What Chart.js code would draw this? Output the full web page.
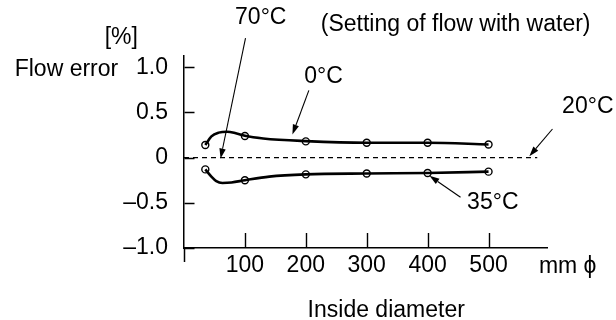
<!DOCTYPE html>
<html>
<head>
<meta charset="utf-8">
<script src="https://cdn.jsdelivr.net/npm/chart.js@4.4.1/dist/chart.umd.min.js"></script>
<style>
  html, body { margin: 0; padding: 0; background: #fff; }
  #wrap { width: 616px; height: 320px; }
</style>
</head>
<body>
<div id="wrap"><canvas id="flowChart" width="616" height="320"></canvas></div>
<script>
// valores
const diameters = [35, 100, 200, 300, 400, 500];
const error0C = [0.14, 0.24, 0.18, 0.165, 0.165, 0.145];
const error35C = [-0.13, -0.25, -0.185, -0.175, -0.17, -0.155];

// tracado suavizado das curvas
const curve0X = [35, 45, 57, 71, 85, 100, 130, 200, 300, 400, 500];
const curve0Y = [0.14, 0.235, 0.277, 0.287, 0.27, 0.242, 0.212, 0.183, 0.165, 0.165, 0.145];
const curve35X = [35, 45, 53, 63, 78, 100, 140, 200, 300, 400, 500];
const curve35Y = [-0.13, -0.21, -0.26, -0.28, -0.275, -0.25, -0.21, -0.185, -0.175, -0.17, -0.155];

// linha de referencia 20°C
const zeroLineX = [0, 580];
const zeroLineY = [0, 0];

const yTickValues = [1.0, 0.5, 0, -0.5, -1.0];
const yTickLabels = ['1.0', '0.5', '0', '\u20130.5', '\u20131.0'];
const xTickValues = [100, 200, 300, 400, 500];
const xTickLabels = ['100', '200', '300', '400', '500'];

const FONT = '"Liberation Sans", Arial, Helvetica, sans-serif';
const FONT_SIZE = 23;

function toPoints(xs, ys) {
    return xs.map((v, i) => ({ x: v, y: ys[i] }));
}

// textos e setas (coordenadas em unidades do grafico)
const labels = [
    { text: '70\u00b0C', x: 126, y: 1.55 },
    { text: '(Setting of flow with water)', x: 446, y: 1.47 },
    { text: '0\u00b0C', x: 229, y: 0.894 },
    { text: '20\u00b0C', x: 663, y: 0.559 },
    { text: '35\u00b0C', x: 507, y: -0.503 },
    { text: '[%]', x: -103, y: 1.33 },
    { text: 'Flow error', x: -193, y: 0.975 },
    { text: 'mm \u03d5', x: 630, y: -1.205 },
    { text: 'Inside diameter', x: 332, y: -1.69 }
];
const arrows = [
    { from: [101, 1.323], to: [60, -0.01] },
    { from: [205, 0.745], to: [178, 0.255] },
    { from: [605, 0.317], to: [567, 0.015] },
    { from: [454, -0.439], to: [403, -0.2] }
];

const figureExtras = {
    id: 'figureExtras',
    afterDraw(chart) {
        const { ctx, chartArea, scales: { x, y } } = chart;
        ctx.save();
        ctx.strokeStyle = '#000';
        ctx.fillStyle = '#000';

        const axisX = Math.round(x.getPixelForValue(0)) + 0.5;
        const axisY = chartArea.bottom;

        // prolongamento do eixo y abaixo do eixo x
        ctx.lineWidth = 1.5;
        ctx.beginPath();
        ctx.moveTo(axisX, axisY);
        ctx.lineTo(axisX, axisY + 14);
        ctx.stroke();

        // marcas de escala voltadas para dentro
        ctx.lineWidth = 1.4;
        ctx.beginPath();
        xTickValues.forEach(v => {
            const px = Math.round(x.getPixelForValue(v)) + 0.5;
            ctx.moveTo(px, axisY);
            ctx.lineTo(px, axisY - 15);
        });
        yTickValues.forEach(v => {
            const py = Math.round(y.getPixelForValue(v)) + 0.5;
            ctx.moveTo(axisX, py);
            ctx.lineTo(axisX + 10, py);
        });
        ctx.stroke();

        // setas
        ctx.lineWidth = 1.1;
        arrows.forEach(a => {
            const x1 = x.getPixelForValue(a.from[0]), y1 = y.getPixelForValue(a.from[1]);
            const x2 = x.getPixelForValue(a.to[0]), y2 = y.getPixelForValue(a.to[1]);
            const ang = Math.atan2(y2 - y1, x2 - x1);
            const len = 10, half = 3.2;
            const bx = x2 - len * Math.cos(ang), by = y2 - len * Math.sin(ang);
            ctx.beginPath();
            ctx.moveTo(x1, y1);
            ctx.lineTo(bx, by);
            ctx.stroke();
            ctx.beginPath();
            ctx.moveTo(x2, y2);
            ctx.lineTo(bx + half * Math.sin(ang), by - half * Math.cos(ang));
            ctx.lineTo(bx - half * Math.sin(ang), by + half * Math.cos(ang));
            ctx.closePath();
            ctx.fill();
        });

        // textos
        ctx.font = FONT_SIZE + 'px ' + FONT;
        ctx.textAlign = 'center';
        ctx.textBaseline = 'middle';
        labels.forEach(l => {
            ctx.fillText(l.text, x.getPixelForValue(l.x), y.getPixelForValue(l.y));
        });
        ctx.restore();
    }
};

const lineStyle = {
    type: 'line',
    borderColor: '#000',
    borderWidth: 2.6,
    pointRadius: 0,
    fill: false,
    cubicInterpolationMode: 'monotone'
};
const pointStyle = {
    type: 'scatter',
    showLine: false,
    pointRadius: 3.5,
    pointBorderWidth: 1.4,
    pointBorderColor: '#000',
    pointBackgroundColor: 'rgba(0,0,0,0)'
};

new Chart(document.getElementById('flowChart'), {
    type: 'line',
    data: {
        datasets: [
            Object.assign({ label: '0\u00b0C', data: toPoints(curve0X, curve0Y) }, lineStyle),
            Object.assign({ label: '0\u00b0C pts', data: toPoints(diameters, error0C) }, pointStyle),
            Object.assign({ label: '35\u00b0C', data: toPoints(curve35X, curve35Y) }, lineStyle),
            Object.assign({ label: '35\u00b0C pts', data: toPoints(diameters, error35C) }, pointStyle),
            {
                type: 'line',
                label: '20\u00b0C',
                data: toPoints(zeroLineX, zeroLineY),
                borderColor: '#000',
                borderWidth: 1.2,
                borderDash: [5, 4],
                pointRadius: 0,
                fill: false
            }
        ]
    },
    options: {
        responsive: false,
        animation: false,
        devicePixelRatio: 1,
        layout: { padding: { top: 56, right: 69, left: 0, bottom: 0 } },
        plugins: {
            legend: { display: false },
            tooltip: { enabled: false }
        },
        scales: {
            x: {
                type: 'linear',
                position: 'bottom',
                min: 0,
                max: 596,
                afterBuildTicks: s => { s.ticks = xTickValues.map(v => ({ value: v })); },
                afterFit: s => { s.height = 72; },
                grid: { display: false, drawTicks: false },
                border: { display: true, color: '#000', width: 1.5 },
                ticks: {
                    color: '#000',
                    font: { family: FONT, size: FONT_SIZE },
                    padding: 4,
                    maxRotation: 0,
                    callback: (v, i) => xTickLabels[i]
                }
            },
            y: {
                type: 'linear',
                position: 'left',
                min: -1.0,
                max: 1.125,
                afterBuildTicks: s => { s.ticks = yTickValues.map(v => ({ value: v })); },
                afterFit: s => { s.width = 184; },
                grid: { display: false, drawTicks: false },
                border: { display: true, color: '#000', width: 1.5 },
                ticks: {
                    color: '#000',
                    font: { family: FONT, size: FONT_SIZE },
                    padding: 16,
                    callback: (v, i) => yTickLabels[i]
                }
            }
        }
    },
    plugins: [figureExtras]
});
</script>
</body>
</html>
